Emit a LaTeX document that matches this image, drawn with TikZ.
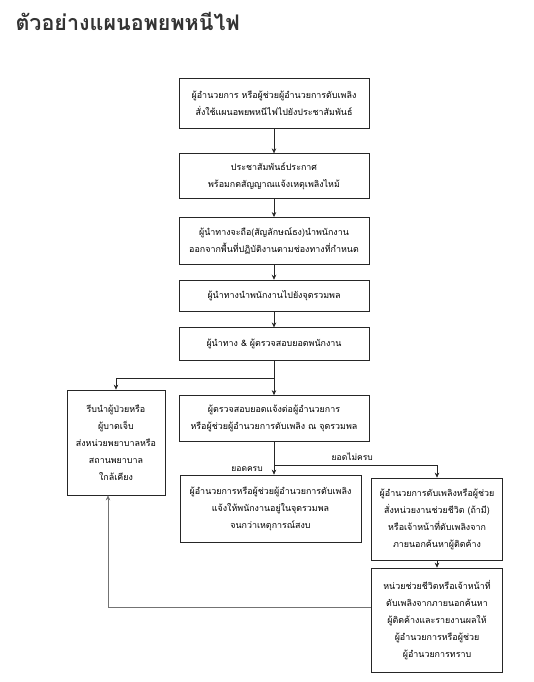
\documentclass[tikz,border=0pt]{standalone}
\usepackage{fontspec}
\newfontfamily\thai[Script=Thai]{Loma}
\usetikzlibrary{positioning, arrows.meta}

\begin{document}
\begin{tikzpicture}[x=1pt, y=-1pt,
      box/.style={draw=black!85, line width=0.7pt, align=center, inner sep=2pt,
        font=\thai\fontsize{8.9}{17}\selectfont, minimum width=190pt},
      arr/.style={draw=black!85, line width=0.6pt, -{Stealth[length=5pt, width=4.5pt]}},
      lbl/.style={font=\thai\fontsize{8.5}{10}\selectfont, inner sep=1pt}]

    \useasboundingbox (0,0) rectangle (533,682);

    % title
    \node[anchor=west, font=\thai\bfseries\fontsize{21.5}{24}\selectfont, text=black!80] (title) at (12,21) {ตัวอย่างแผนอพยพหนีไฟ};

    % main chain
    \node[box, minimum height=50pt] (order) at (274,103) {ผู้อำนวยการ หรือผู้ช่วยผู้อำนวยการดับเพลิง\\ สั่งใช้แผนอพยพหนีไฟไปยังประชาสัมพันธ์};
    \node[box, minimum height=45pt, below=25pt of order] (announce) {ประชาสัมพันธ์ประกาศ\\ พร้อมกดสัญญาณแจ้งเหตุเพลิงไหม้};
    \node[box, minimum height=47pt, below=18pt of announce] (flag) {ผู้นำทางจะถือ(สัญลักษณ์ธง)นำพนักงาน\\ ออกจากพื้นที่ปฏิบัติงานตามช่องทางที่กำหนด};
    \node[box, minimum height=31pt, below=15pt of flag] (lead) {ผู้นำทางนำพนักงานไปยังจุดรวมพล};
    \node[box, minimum height=33pt, below=16pt of lead] (count) {ผู้นำทาง \& ผู้ตรวจสอบยอดพนักงาน};
    \node[box, minimum height=46pt, below=34pt of count] (report) {ผู้ตรวจสอบยอดแจ้งต่อผู้อำนวยการ\\ หรือผู้ช่วยผู้อำนวยการดับเพลิง ณ จุดรวมพล};

    % side and lower boxes
    \node[box, minimum width=98pt, minimum height=105pt] (hosp) at (116,442.5) {รีบนำผู้ป่วยหรือ\\ ผู้บาดเจ็บ\\ ส่งหน่วยพยาบาลหรือ\\ สถานพยาบาล\\ ใกล้เคียง};
    \node[box, minimum width=181pt, minimum height=67pt] (stay) at (270.5,508.5) {ผู้อำนวยการหรือผู้ช่วยผู้อำนวยการดับเพลิง\\ แจ้งให้พนักงานอยู่ในจุดรวมพล\\ จนกว่าเหตุการณ์สงบ};
    \node[box, minimum width=131pt, minimum height=82pt] (rescue) at (437,519) {ผู้อำนวยการดับเพลิงหรือผู้ช่วย\\ สั่งหน่วยงานช่วยชีวิต (ถ้ามี)\\ หรือเจ้าหน้าที่ดับเพลิงจาก\\ ภายนอกค้นหาผู้ติดค้าง};
    \node[box, minimum width=131pt, minimum height=104pt] (search) at (437,620) {หน่วยช่วยชีวิตหรือเจ้าหน้าที่\\ ดับเพลิงจากภายนอกค้นหา\\ ผู้ติดค้างและรายงานผลให้\\ ผู้อำนวยการหรือผู้ช่วย\\ ผู้อำนวยการทราบ};

    \coordinate (split1) at ([yshift=-17pt]count.south);
    \coordinate (split2) at ([yshift=-23pt]report.south);

    \draw[arr] (order) -- (announce);
    \draw[arr] (announce) -- (flag);
    \draw[arr] (flag) -- (lead);
    \draw[arr] (lead) -- (count);
    \draw[arr] (count.south) -- (split1) -| (hosp.north);
    \draw[arr] (split1) -- (report.north);
    \draw[arr] (report.south) -- (report.south |- stay.north) node[lbl, pos=0.82, left=10pt]{ยอดครบ};
    \draw[arr] (split2) -| node[lbl, pos=0.24, above=3pt]{ยอดไม่ครบ} (rescue.north);
    \draw[arr] (rescue) -- (search);
    \draw[arr, draw=black!55] ([yshift=13pt]search.west) -| ([xshift=-8pt]hosp.south);
  \end{tikzpicture}
\end{document}
